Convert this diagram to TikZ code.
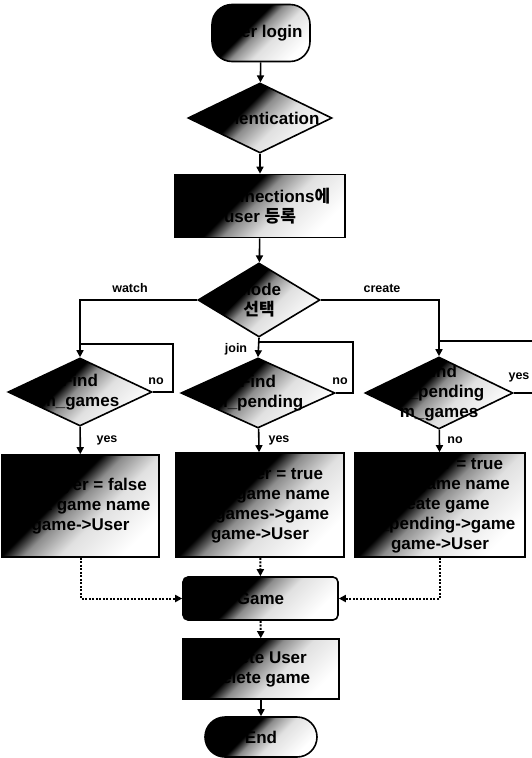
\documentclass[tikz,border=0pt]{standalone}
\usepackage{fontspec}
\setmainfont{Liberation Sans}
\newfontfamily\kr{Noto Sans CJK KR}
\usetikzlibrary{shapes.geometric,arrows.meta}
\pgfdeclareverticalshading{bwdiag}{100bp}{color(0bp)=(white); color(25bp)=(white); color(42bp)=(white!88!black); color(52bp)=(white!55!black); color(58bp)=(black); color(100bp)=(black)}
\begin{document}
\begin{tikzpicture}[x=1pt,y=-1pt,
 nodefont/.style={font=\bfseries\fontsize{17}{20}\selectfont},
 base/.style={draw=black, line width=1.6pt, shade, shading=bwdiag, shading angle=45, inner sep=1pt, align=center, nodefont},
 sz/.style 2 args={minimum width=#1pt, minimum height=#2pt},
 term/.style={base, rectangle, rounded corners=20pt},
 proc/.style={base, rectangle},
 dec/.style={base, diamond},
 dtext/.style={align=center, nodefont, inner sep=0pt},
 elab/.style={font=\bfseries\fontsize{12.5}{14}\selectfont, inner sep=1pt},
 arr/.style={line width=1.6pt, -{Triangle[length=7pt,width=7pt]}},
 ln/.style={line width=1.6pt},
 dotarr/.style={line width=2pt, dash pattern=on 2pt off 1.5pt, -{Triangle[length=7pt,width=7pt]}},
]
\useasboundingbox (0,0) rectangle (532,758);

\node[term, sz={98}{57}] (login) at (261,33) {User login};
\node[dec, sz={144}{70}, label={[dtext]center:Authentication}] (auth) at (260,118) {};
\node[proc, sz={170}{63}] (conn) at (260,206) {m\_connections{\kr 에}\\user {\kr 등록}};
\node[dec, sz={122}{74}, label={[dtext]center:Mode\\{\kr 선택}}] (mode) at (259,300) {};

\node[dec, sz={144}{68}, label={[dtext]center:Find\\m\_games}] (fg) at (80,392) {};
\node[dec, sz={154}{70}, label={[dtext]center:Find\\m\_pending}] (fp) at (258,393) {};
\node[dec, sz={148}{72}, label={[dtext]center:Find\\m\_pending\\m\_games}] (fc) at (439,393) {};

\node[proc, sz={157}{102}] (wbox) at (80.5,506) {m\_player = false\\input game name\\game->User};
\node[proc, sz={168}{104}] (jbox) at (260,505) {m\_player = true\\input game name\\m\_games->game\\game->User};
\node[proc, sz={170}{104}] (cbox) at (440,505) {m\_player = true\\input game name\\create game\\m\_pending->game\\game->User};

\node[proc, rounded corners=5pt, sz={155}{43}] (game) at (260.5,598.5) {Game};
\node[proc, sz={156}{60}] (del) at (261,669) {delete User\\delete game};
\node[term, sz={112}{40}] (end) at (261,737) {End};

\draw[arr] (login) -- (auth);
\draw[arr] (auth) -- (conn);
\draw[arr] (conn) -- (mode);
\draw[arr] (mode.west) -| (fg.north);
\draw[arr] (mode.south) -- (fp.north);
\draw[arr] (mode.east) -| (fc.north);
\node[elab] (lw) at (130,288) {watch};
\node[elab] (lj) at (236,349) {join};
\node[elab] (lc) at (382,288) {create};

\coordinate (gj) at (80,344);
\draw[ln] (fg.east) -- ++(20,0) |- (gj);
\node[elab] (gno) at (156,381) {no};
\coordinate (pj) at (258,342);
\draw[ln] (fp.east) -- ++(17,0) |- (pj);
\node[elab] (pno) at (340,381) {no};
\coordinate (cj) at (439,341);
\draw[ln] (fc.east) -- ++(32,0) |- (cj);
\node[elab] (cyes) at (519,377) {yes};

\draw[arr] (fg) -- (wbox);
\node[elab] (gyes) at (107,440) {yes};
\draw[arr] (fp) -- (jbox);
\node[elab] (pyes) at (279,440) {yes};
\draw[arr] (fc) -- (cbox);
\node[elab] (cno) at (455,440) {no};

\draw[dotarr] (wbox.south) |- (game.west);
\draw[dotarr] (jbox) -- (game);
\draw[dotarr] (cbox.south) |- (game.east);
\draw[dotarr] (game) -- (del);
\draw[arr] (del) -- (end);
\end{tikzpicture}
\end{document}
